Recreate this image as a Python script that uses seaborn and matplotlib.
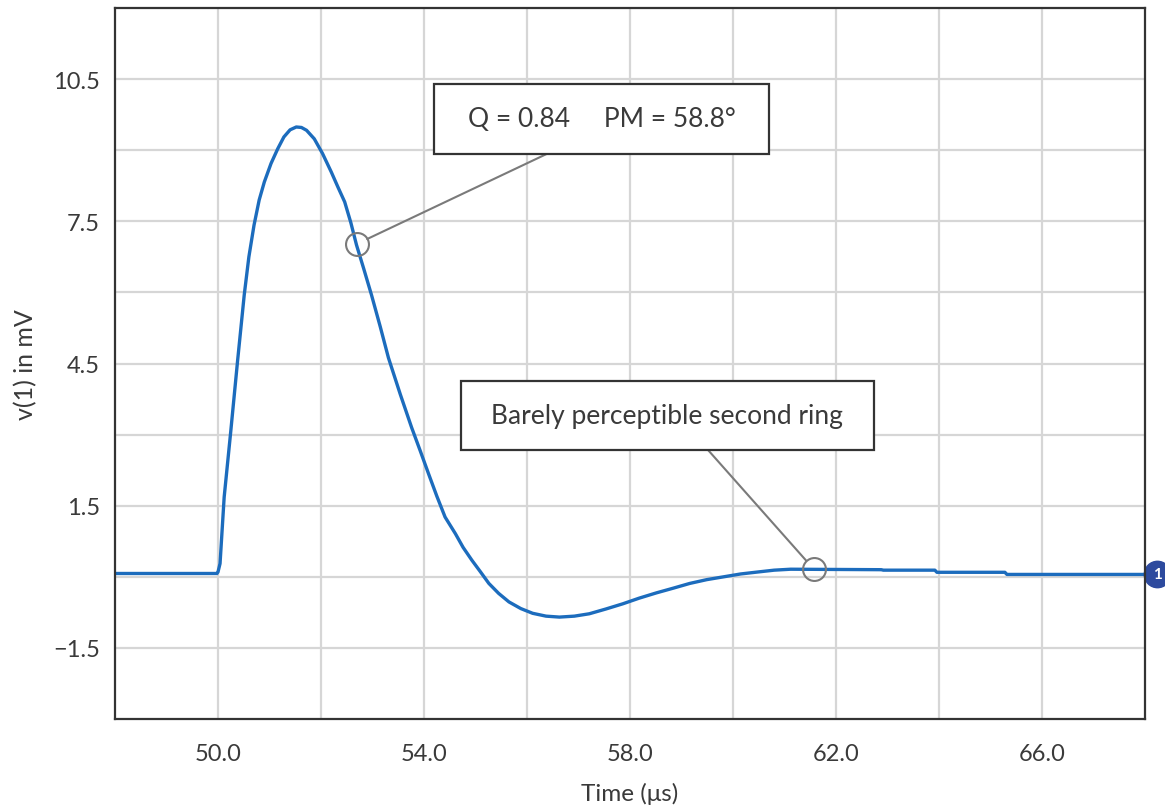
import matplotlib
matplotlib.use("Agg")
import matplotlib.pyplot as plt
import seaborn as sns
import pandas as pd
from matplotlib.patches import Rectangle

# step response trace
time_us = [48.0, 49.98, 50.0, 50.04, 50.12, 50.25, 50.38, 50.51, 50.60, 50.70,
           50.80, 50.90, 51.03, 51.16, 51.28, 51.40, 51.52, 51.62, 51.72, 51.87,
           52.03, 52.20, 52.33, 52.46, 52.58, 52.69, 52.83, 52.98, 53.15, 53.31,
           53.54, 53.76, 53.93, 54.09, 54.25, 54.41, 54.61, 54.76, 54.93, 55.10,
           55.26, 55.45, 55.65, 55.88, 56.11, 56.37, 56.63, 56.92, 57.21, 57.53,
           57.86, 58.18, 58.51, 58.84, 59.16, 59.49, 59.82, 60.15, 60.47, 60.80,
           61.12, 62.88, 62.92, 63.92, 63.96, 65.28, 65.32, 68.0]
v_mv = [0.07, 0.07, 0.10, 0.28, 1.68, 3.09, 4.55, 5.95, 6.75, 7.42,
        7.95, 8.33, 8.72, 9.03, 9.28, 9.43, 9.49, 9.48, 9.42, 9.24,
        8.93, 8.54, 8.22, 7.91, 7.47, 7.00, 6.50, 5.95, 5.28, 4.62,
        3.85, 3.15, 2.65, 2.17, 1.70, 1.26, 0.91, 0.62, 0.35, 0.10,
        -0.14, -0.35, -0.53, -0.67, -0.77, -0.83, -0.85, -0.83, -0.78, -0.68,
        -0.57, -0.45, -0.34, -0.24, -0.14, -0.06, 0.00, 0.06, 0.10, 0.14,
        0.16, 0.15, 0.14, 0.14, 0.095, 0.095, 0.05, 0.05]

x_ticks = [50.0, 54.0, 58.0, 62.0, 66.0]
y_ticks = [-1.5, 1.5, 4.5, 7.5, 10.5]
x_grid = [50, 52, 54, 56, 58, 60, 62, 64, 66]
y_grid = [-1.5, 0, 1.5, 3.0, 4.5, 6.0, 7.5, 9.0, 10.5]

# callouts: text, box (x0, x1, y0, y1), point where the leader leaves the box, marked point
note1_text = "Q = 0.84     PM = 58.8°"
note1_box = (54.19, 60.70, 8.93, 10.40)
note1_from = (56.40, 8.93)
note1_pt = (52.69, 7.02)
note2_text = "Barely perceptible second ring"
note2_box = (54.72, 62.73, 2.67, 4.14)
note2_from = (59.52, 2.67)
note2_pt = (61.57, 0.16)

sns.set_style("white")
plt.rcParams['font.family'] = ['Lato', 'DejaVu Sans']
txt = '#3a3a3a'

df = pd.DataFrame({'t': time_us, 'v': v_mv})

fig = plt.figure(figsize=(11.65, 8.12), dpi=100)
ax = fig.add_axes([0.0987, 0.1133, 0.8841, 0.8756])

ax.set_xlim(48, 68)
ax.set_ylim(-3, 12)
for gx in x_grid:
    ax.axvline(gx, color='#d6d6d6', lw=1.6, zorder=0)
for gy in y_grid:
    ax.axhline(gy, color='#d6d6d6', lw=1.6, zorder=0)

sns.lineplot(data=df, x='t', y='v', color='#1c6cbd', lw=2.4, ax=ax, zorder=3)

gray = '#7a7a7a'
for text, box, frm, pt in [(note1_text, note1_box, note1_from, note1_pt),
                           (note2_text, note2_box, note2_from, note2_pt)]:
    x0, x1, y0, y1 = box
    ax.add_patch(Rectangle((x0, y0), x1 - x0, y1 - y0, facecolor='white',
                           edgecolor='#333333', lw=1.6, zorder=5))
    ax.text((x0 + x1) / 2, (y0 + y1) / 2, text, ha='center', va='center',
            fontsize=19, color=txt, zorder=6)
    ax.annotate('', xy=pt, xytext=frm,
                arrowprops=dict(arrowstyle='-', color=gray, lw=1.5,
                                shrinkA=0, shrinkB=8.5), zorder=4)
    ax.plot([pt[0]], [pt[1]], marker='o', ms=16.5, mfc='none', mec=gray,
            mew=1.5, zorder=6)

# trace number tag on the right edge
ax.plot([68.23], [v_mv[-1]], marker='o', ms=19, color='#2d4a9e',
        clip_on=False, zorder=7)
ax.text(68.25, v_mv[-1], '1', color='white', fontsize=11, fontweight='bold',
        ha='center', va='center', clip_on=False, zorder=8)

ax.set_xticks(x_ticks)
ax.set_xticklabels([f'{t:.1f}' for t in x_ticks])
ax.set_yticks(y_ticks)
ax.set_yticklabels([f'{t:.1f}'.replace('-', '\u2212') for t in y_ticks])
ax.tick_params(axis='both', length=0, labelsize=17, colors=txt)
ax.tick_params(axis='x', pad=17)
ax.tick_params(axis='y', pad=11)
ax.set_xlabel('Time (μs)', fontsize=17.5, color=txt, labelpad=13)
ax.set_ylabel('v(1) in mV', fontsize=18, color=txt, labelpad=11)

for s in ax.spines.values():
    s.set_color('#333333')
    s.set_linewidth(1.6)
    s.set_zorder(10)

fig.savefig('out.png', dpi=100)
